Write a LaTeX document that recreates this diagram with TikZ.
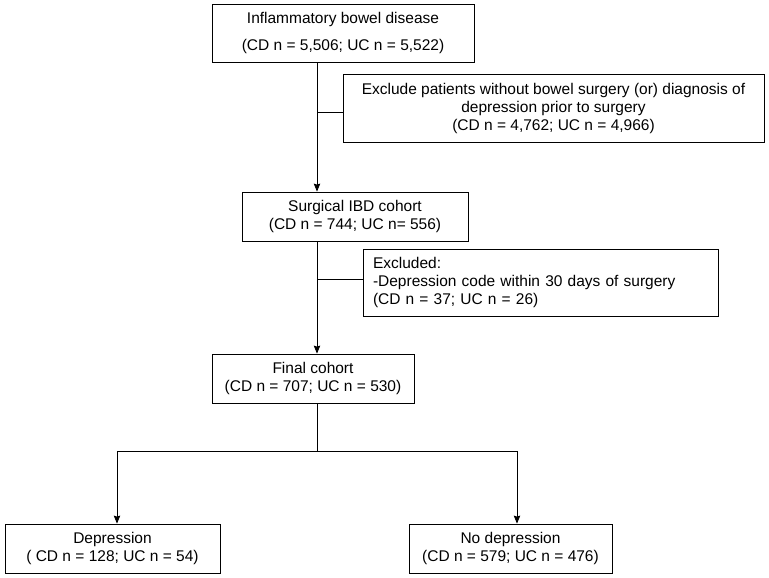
\documentclass[tikz,border=0pt]{standalone}
\usepackage{fontspec}
\setmainfont{Liberation Sans}
\usetikzlibrary{arrows.meta}

\begin{document}
\begin{tikzpicture}[x=1pt, y=-1pt, >={Stealth[length=8pt, width=6.5pt, inset=1pt]},
    box/.style={draw, line width=0.8pt, inner sep=0pt, align=center,
        font=\fontsize{15.5}{18}\selectfont}]
    \useasboundingbox (0,0) rectangle (769,578);

    \node[box, minimum width=262pt, minimum height=58pt] (ibd) at (343, 33)
        {Inflammatory bowel disease\\[9pt] (CD n = 5,506; UC n = 5,522)};
    \node[box, minimum width=421pt, minimum height=68pt] (exclude) at (553.5, 108)
        {Exclude patients without bowel surgery (or) diagnosis of\\ depression prior to surgery\\ (CD n = 4,762; UC n = 4,966)};
    \node[box, minimum width=226pt, minimum height=49pt] (surgical) at (355, 216.5)
        {Surgical IBD cohort\\ (CD n = 744; UC n= 556)};
    \node[box, align=left, text width=335pt, inner xsep=10pt, minimum height=67pt] (excluded) at (540.5, 282.5)
        {Excluded:\\ -Depression code within 30 days of surgery\\ (CD n = 37; UC n = 26)};
    \node[box, minimum width=202pt, minimum height=49pt] (final) at (313, 378.5)
        {Final cohort\\ (CD n = 707; UC n = 530)};
    \node[box, minimum width=215pt, minimum height=49pt] (dep) at (112.5, 548.5)
        {Depression\\ ( CD n = 128; UC n = 54)};
    \node[box, minimum width=203pt, minimum height=49pt] (nodep) at (510.5, 548.5)
        {No depression\\ (CD n = 579; UC n = 476)};

    % main line
    \coordinate (trunk) at (317, 0);
    \coordinate (split) at (317, 451);
    \coordinate (lft) at (117, 451);
    \coordinate (rgt) at (517, 451);
    \draw[line width=0.8pt, ->] (ibd.south -| trunk) -- (surgical.north -| trunk);
    \draw[line width=0.8pt] (trunk |- exclude.west) ++(0,4) -- ([yshift=-4pt]exclude.west);
    \draw[line width=0.8pt, ->] (surgical.south -| trunk) -- (final.north -| trunk);
    \draw[line width=0.8pt] (trunk |- excluded.west) ++(0,-3.5) -- ([yshift=3.5pt]excluded.west);

    % split
    \draw[line width=0.8pt] (final.south -| trunk) -- (split);
    \draw[line width=0.8pt] (lft) -- (rgt);
    \draw[line width=0.8pt, ->] (lft) -- (lft |- dep.north);
    \draw[line width=0.8pt, ->] (rgt) -- (rgt |- nodep.north);
\end{tikzpicture}
\end{document}
